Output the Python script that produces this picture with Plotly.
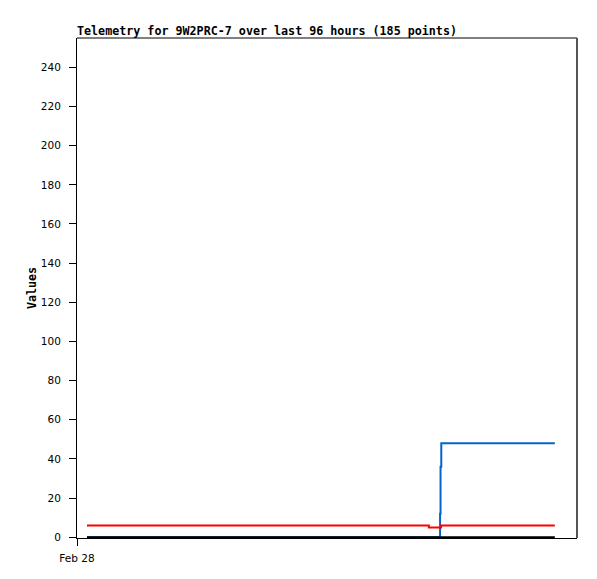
import plotly.graph_objects as go

# time in hours from Feb 28 00:00
t_black = [2.05, 98.05]
v_black = [0, 0]

t_red = [2.05, 72.2, 74.7, 98.05]
v_red = [6, 5, 6, 6]

t_blue = [2.05, 74.5, 74.6, 74.75, 74.9, 98.05]
v_blue = [0, 12, 36, 48, 48, 48]

y_ticks = [0, 20, 40, 60, 80, 100, 120, 140, 160, 180, 200, 220, 240]
x_tick_vals = [0]
x_tick_text = ["Feb 28"]

fig = go.Figure()
fig.add_trace(go.Scatter(x=t_blue, y=v_blue, mode="lines", cliponaxis=False,
                         line=dict(color="#0066cc", width=2, shape="hv"), showlegend=False))
fig.add_trace(go.Scatter(x=t_red, y=v_red, mode="lines", line=dict(color="#ff0000", width=2, shape="hv"), showlegend=False))
fig.add_trace(go.Scatter(x=t_black, y=v_black, mode="lines", cliponaxis=False,
                         line=dict(color="#000000", width=2, shape="hv"), showlegend=False))

# page body has an 8px margin; compensate in the figure margins
fig.update_layout(
    width=597, height=579,
    margin=dict(l=69, r=28, t=30, b=49, autoexpand=False),
    paper_bgcolor="white", plot_bgcolor="white",
    title=dict(text="<b>Telemetry for 9W2PRC-7 over last 96 hours (185 points)</b>",
               x=69/597, xanchor="left", y=1-23/579, yanchor="middle",
               font=dict(family="DejaVu Sans Mono", size=11.7, color="black")),
    xaxis=dict(range=[0, 102.6], showgrid=False, zeroline=False, automargin=False,
               tickvals=x_tick_vals, ticktext=x_tick_text, ticks="outside", ticklen=7,
               tickcolor="black", showline=True, linecolor="black", linewidth=1,
               ticklabelstandoff=3,
               tickfont=dict(family="DejaVu Sans", size=10.5, color="black")),
    yaxis=dict(range=[-0.4, 255], showgrid=False, zeroline=False, automargin=False,
               tickvals=y_ticks, ticks="outside", ticklen=7, tickcolor="black",
               showline=True, linecolor="black", linewidth=1,
               ticklabelstandoff=6,
               tickfont=dict(family="DejaVu Sans", size=10.5, color="black"),
               title=dict(text="<b>Values</b>", font=dict(family="DejaVu Sans Mono", size=11.7, color="black"), standoff=1)),
    shapes=[dict(type="line", xref="paper", yref="paper", x0=0, x1=1, y0=1, y1=1, line=dict(color="black", width=1)),
            dict(type="line", xref="paper", yref="paper", x0=1, x1=1, y0=0, y1=1, line=dict(color="#555555", width=2))],
)

fig.write_html("out.html")
